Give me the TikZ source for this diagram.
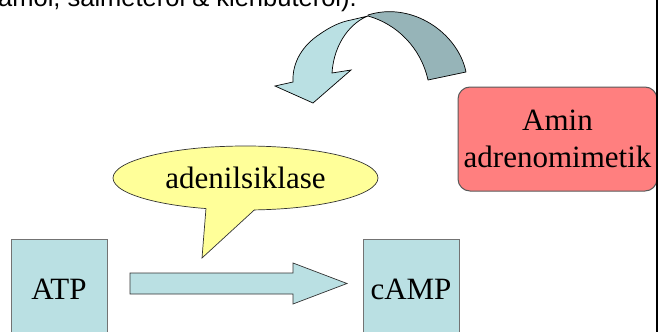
\documentclass[tikz,border=0pt]{standalone}
\usepackage{fontspec}
\setmainfont{Liberation Serif}
\newfontfamily\topsans{Liberation Sans}
\usetikzlibrary{shapes.geometric}
\definecolor{boxblue}{RGB}{186,224,227}
\definecolor{darkband}{RGB}{150,180,184}
\definecolor{calloutyellow}{RGB}{255,255,153}
\definecolor{aminred}{RGB}{255,127,127}
\tikzset{
  bigtext/.style={font=\fontsize{31}{37}\selectfont},
  molbox/.style={draw=black!55, line width=0.8pt, fill=boxblue, minimum width=96pt, minimum height=101pt, inner sep=0pt, bigtext},
  shape outline/.style={draw=black, line width=0.7pt},
}
\begin{document}
\begin{tikzpicture}[x=1pt,y=-1pt]
\useasboundingbox (0,0) rectangle (659,332);
\clip (0,0) rectangle (659,332);
% top (cut) text
\node[anchor=base west, inner sep=0pt, font=\topsans\fontsize{25.5}{30}\selectfont] (toptext) at (-2,6.5) {amol, salmeterol \& klenbuterol).};
% curved arrow: dark back band
\filldraw[fill=darkband, shape outline, line join=round]
  (368,15) .. controls (412,1) and (458,33) .. (466,72)
  -- (428,80)
  .. controls (421,48) and (397,24) .. (368,16) -- cycle;
% curved arrow: light front band with head
\filldraw[fill=boxblue, shape outline, line join=miter]
  (351,20) -- (368,16)
  .. controls (352,22) and (334,42) .. (332,73)
  -- (351,70) -- (313,103) -- (275,86) -- (293,82)
  .. controls (292,62) and (303,45) .. (320,34)
  .. controls (330,27) and (340,22) .. (351,20) -- cycle;
% Amin box
\node[draw=black!65, line width=1pt, fill=aminred, rounded corners=12pt, minimum width=199pt, minimum height=104pt, inner sep=0pt, align=center, bigtext] (amin) at (557.5,139) {Amin\\[-0pt]adrenomimetik};
% molecules
\node[molbox] (atp) at (59,289.5) {ATP};
\node[molbox] (camp) at (411,289.5) {cAMP};
% block arrow ATP -> cAMP
\filldraw[fill=boxblue, draw=black!80, line width=0.7pt]
  (130,273) -- (293,273) -- (293,263) -- (347,283.5) -- (293,304) -- (293,294) -- (130,294) -- cycle;
% callout
\node[ellipse, draw=black!80, line width=0.7pt, fill=calloutyellow, minimum width=265pt, minimum height=64pt, inner sep=0pt, bigtext] (enz) at (245.5,178) {};
\fill[calloutyellow] (202,258) -- (206,208.5) -- (206,199) -- (254,199) -- (254,210) -- cycle;
\draw[draw=black!80, line width=0.7pt, line join=miter] (206,208.3) -- (202,258) -- (254.5,209.8);
\node[bigtext, inner sep=0pt] (enzlabel) at (enz.center) {adenilsiklase};
% right border line
\draw[line width=2pt] (657,-5) -- (657,340);
\end{tikzpicture}
\end{document}
